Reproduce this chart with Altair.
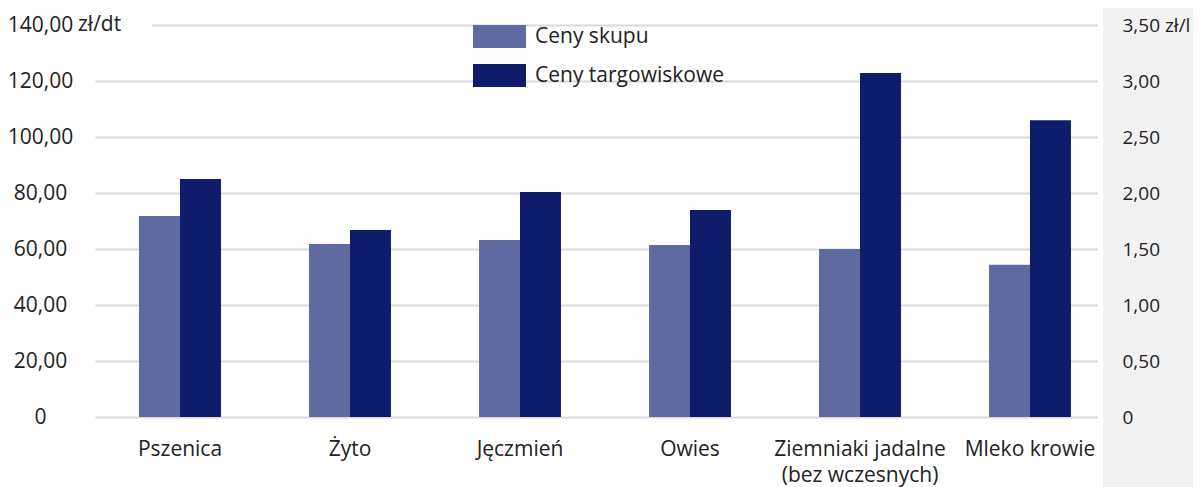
import altair as alt
import pandas as pd

categories = ["Pszenica", "Żyto", "Jęczmień", "Owies", "Ziemniaki jadalne (bez wczesnych)", "Mleko krowie"]
units = ["zł/dt", "zł/dt", "zł/dt", "zł/dt", "zł/dt", "zł/l"]
series = ["Ceny skupu", "Ceny targowiskowe"]
ceny_skupu = [71.8, 61.8, 63.2, 61.4, 60.0, 1.36]
ceny_targowiskowe = [85.0, 66.8, 80.4, 73.9, 122.9, 2.65]
left_ticks = [0, 20, 40, 60, 80, 100, 120, 140]
right_ticks = [0, 0.5, 1.0, 1.5, 2.0, 2.5, 3.0, 3.5]
colors = ["#5f6ba0", "#0f1b6b"]

FONT = "Open Sans"
FS = 21
TXT = "#222222"

rows = []
for c, u, s, t in zip(categories, units, ceny_skupu, ceny_targowiskowe):
    rows.append({"kategoria": c, "jednostka": u, "seria": series[0], "wartosc": s})
    rows.append({"kategoria": c, "jednostka": u, "seria": series[1], "wartosc": t})
df = pd.DataFrame(rows)
one = pd.DataFrame({"k": [0]})

x_enc = alt.X(
    "kategoria:N", sort=categories,
    scale=alt.Scale(paddingInner=0.518, paddingOuter=0.259),
    axis=alt.Axis(
        title=None, labelAngle=0, domain=False, ticks=False, grid=False,
        labelPadding=21, labelFontSize=FS, labelColor=TXT, labelFont=FONT,
        labelLineHeight=26, labelLimit=0,
        labelExpr="datum.label == 'Ziemniaki jadalne (bez wczesnych)' ? ['Ziemniaki jadalne', '(bez wczesnych)'] : datum.label",
    ),
)
xo_enc = alt.XOffset("seria:N", sort=series, scale=alt.Scale(paddingInner=0, paddingOuter=0))
color_enc = alt.Color(
    "seria:N", scale=alt.Scale(domain=series, range=colors),
    legend=alt.Legend(
        title=None, orient="none", legendX=378, legendY=-15, direction="vertical",
        symbolType="M-1,-0.434L1,-0.434L1,0.434L-1,0.434Z", symbolSize=2809,
        symbolStrokeWidth=0, labelFontSize=FS, labelFont=FONT, labelColor=TXT,
        labelOffset=9, rowPadding=-18, padding=0, offset=0, labelLimit=0,
    ),
)

bg = alt.Chart(one).mark_rect(color="#f2f2f2").encode(
    x=alt.value(1008), x2=alt.value(1106), y=alt.value(-30), y2=alt.value(480)
)
gap = alt.Chart(one).mark_rect(color="#ffffff").encode(
    x=alt.value(1003), x2=alt.value(1008), y=alt.value(-30), y2=alt.value(400)
)
mask = alt.Chart(one).mark_rect(color="#ffffff").encode(
    x=alt.value(0), x2=alt.value(57), y=alt.value(-4), y2=alt.value(4)
)
unit_txt = alt.Chart(one).mark_text(
    text="zł/dt", align="left", baseline="middle", font=FONT, fontSize=FS, color=TXT
).encode(x=alt.value(-17), y=alt.value(0))

left_bars = alt.Chart(df).transform_filter(alt.datum.jednostka == "zł/dt").mark_bar().encode(
    x=x_enc, xOffset=xo_enc, color=color_enc,
    y=alt.Y(
        "wartosc:Q", scale=alt.Scale(domain=[0, 140], nice=False),
        axis=alt.Axis(
            title=None, values=left_ticks, domain=False, ticks=False, grid=True,
            gridColor="#d9d9d9", gridWidth=2, labelAlign="center", labelPadding=55,
            labelFontSize=FS, labelFont=FONT, labelColor=TXT, labelBaseline="middle",
            labelExpr="datum.value == 0 ? '0' : replace(format(datum.value, '.2f'), '.', ',')",
        ),
    ),
)
right_bars = alt.Chart(df).transform_filter(alt.datum.jednostka == "zł/l").mark_bar().encode(
    x=x_enc, xOffset=xo_enc, color=color_enc,
    y=alt.Y(
        "wartosc:Q", scale=alt.Scale(domain=[0, 3.5], nice=False),
        axis=alt.Axis(
            title=None, orient="right", values=right_ticks, domain=False, ticks=False, grid=False,
            labelAlign="left", labelPadding=7, zindex=1, labelLimit=0,
            labelFontSize=19, labelFont=FONT, labelColor=TXT, labelBaseline="middle",
            labelExpr="datum.value == 0 ? '0' : (datum.value == 3.5 ? '3,50 zł/l' : replace(format(datum.value, '.2f'), '.', ','))",
        ),
    ),
)

left = alt.layer(mask, left_bars, unit_txt)
chart = alt.layer(bg, gap, left, right_bars).resolve_scale(y="independent").properties(
    width=1020, height=392,
    autosize=alt.AutoSizeParams(type="none"),
    padding={"left": 87, "top": 17, "right": 78, "bottom": 78},
).configure_view(stroke=None)

chart.save("out.html", embed_options={"renderer": "svg", "actions": False})
